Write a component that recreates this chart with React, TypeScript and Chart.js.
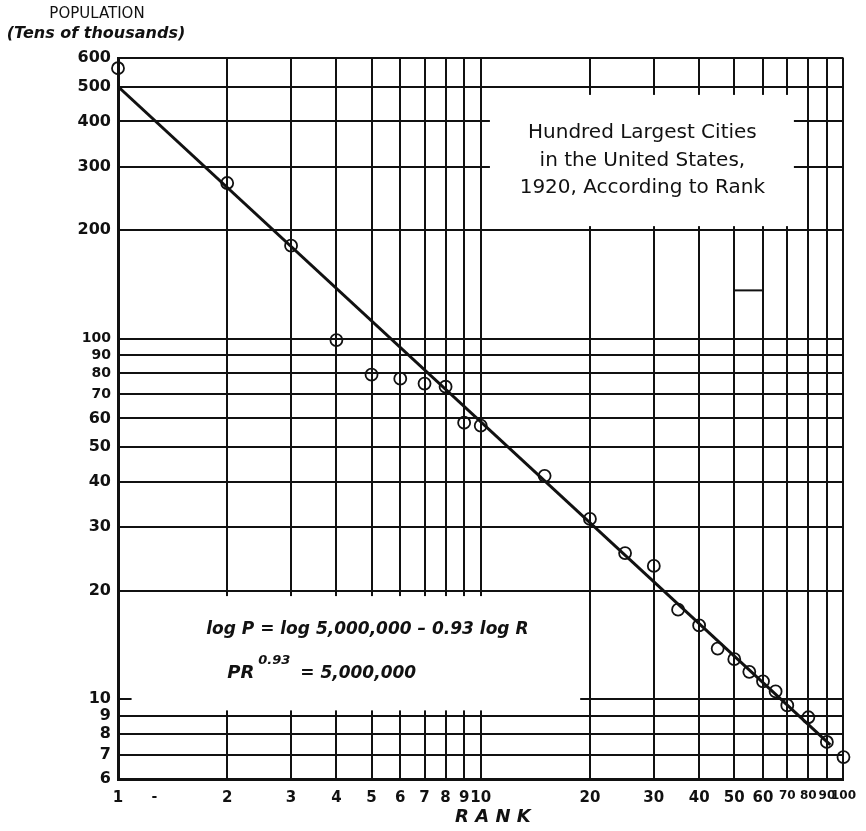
import React, { useEffect, useRef } from "react";
import { Chart, registerables } from "chart.js";

Chart.register(...registerables);

// ---- data ----
const ranks = [1, 2, 3, 4, 5, 6, 7, 8, 9, 10, 15, 20, 25, 30, 35, 40, 45, 50, 55, 60, 65, 70, 80, 90, 100];
const populations = [562, 270, 181, 99, 79.4, 77.4, 75, 73.5, 58.4, 57.3, 41.6, 31.6, 25.4, 23.4, 17.7, 16.0, 13.8, 12.9, 11.9, 11.2, 10.5, 9.6, 8.9, 7.6, 6.9];
const fitRanks = [1, 92];
const fitPopulations = [500, 7.46];
const xTickValues = [1, 2, 3, 4, 5, 6, 7, 8, 9, 10, 20, 30, 40, 50, 60, 70, 80, 90, 100];
const yTickValues = [6, 7, 8, 9, 10, 20, 30, 40, 50, 60, 70, 80, 90, 100, 200, 300, 400, 500, 600];
const yAxisTitle = "POPULATION";
const yAxisSubtitle = "(Tens of thousands)";
const xAxisTitle = "R A N K";
const noteLines = ["Hundred Largest Cities", "in the United States,", "1920, According to Rank"];
const equationLine1 = "log P = log 5,000,000 \u2013 0.93 log R";
const equationLine2a = "PR";
const equationLine2sup = "0.93";
const equationLine2b = " = 5,000,000";

const FONT = '"DejaVu Sans", "Liberation Sans", sans-serif';
const INK = "#111";

const overlayPlugin = {
  id: "overlay",
  beforeDatasetsDraw(chart: any) {
    const { ctx, scales } = chart;
    const x = scales.x;
    const y = scales.y;
    const rect = (r0: number, r1: number, p0: number, p1: number) => {
      const x0 = x.getPixelForValue(r0);
      const x1 = x.getPixelForValue(r1);
      const y0 = y.getPixelForValue(p0);
      const y1 = y.getPixelForValue(p1);
      ctx.fillRect(x0, y0, x1 - x0, y1 - y0);
    };
    ctx.save();
    ctx.fillStyle = "#fff";
    // blank panel for the note (upper right)
    rect(10.6, 73, 474, 205);
    // blank panel for the equations (lower left)
    rect(1.09, 18.8, 19.3, 9.3);
    // small stray mark in the grid
    ctx.strokeStyle = INK;
    ctx.lineWidth = 2;
    ctx.beginPath();
    ctx.moveTo(x.getPixelForValue(50), y.getPixelForValue(136));
    ctx.lineTo(x.getPixelForValue(60), y.getPixelForValue(136));
    ctx.stroke();
    ctx.restore();
  },
  afterDraw(chart: any) {
    const { ctx, chartArea, scales } = chart;
    const x = scales.x;
    const y = scales.y;
    ctx.save();
    ctx.fillStyle = INK;
    ctx.textAlign = "center";
    ctx.textBaseline = "middle";

    // y axis title
    ctx.font = `15px ${FONT}`;
    ctx.fillText(yAxisTitle, 97, 14);
    ctx.font = `italic bold 16px ${FONT}`;
    ctx.fillText(yAxisSubtitle, 96, 34);

    // x axis title
    ctx.font = `italic bold 18px ${FONT}`;
    ctx.fillText(xAxisTitle, x.getPixelForValue(10.8), chartArea.bottom + 38);

    // stray dash among x tick labels
    ctx.font = `bold 14px ${FONT}`;
    ctx.fillText("-", x.getPixelForValue(1.26), chartArea.bottom + 18);

    // note text
    ctx.font = `20px ${FONT}`;
    const noteX = x.getPixelForValue(27.9);
    const noteY0 = y.getPixelForValue(372);
    noteLines.forEach((line, i) => {
      ctx.fillText(line, noteX, noteY0 + i * 27.5);
    });

    // equations
    ctx.textAlign = "left";
    ctx.font = `italic bold 17px ${FONT}`;
    const eqY = y.getPixelForValue(15.6);
    ctx.fillText(equationLine1, x.getPixelForValue(1.75), eqY);
    const y2 = y.getPixelForValue(11.8);
    let cx = x.getPixelForValue(2.0);
    ctx.font = `italic bold 18px ${FONT}`;
    ctx.fillText(equationLine2a, cx, y2);
    cx += ctx.measureText(equationLine2a).width + 4;
    ctx.font = `italic bold 13px ${FONT}`;
    ctx.fillText(equationLine2sup, cx, y2 - 12);
    cx += ctx.measureText(equationLine2sup).width + 4;
    ctx.font = `italic bold 17px ${FONT}`;
    ctx.fillText(equationLine2b, cx, y2);
    ctx.restore();
  },
};

export default function App() {
  const canvasRef = useRef<HTMLCanvasElement | null>(null);

  useEffect(() => {
    const canvas = canvasRef.current;
    if (!canvas) return;
    const chart = new Chart(canvas, {
      type: "scatter",
      data: {
        datasets: [
          {
            type: "line",
            label: "fit",
            data: fitRanks.map((r, i) => ({ x: r, y: fitPopulations[i] })),
            borderColor: INK,
            borderWidth: 3,
            pointRadius: 0,
            fill: false,
            tension: 0,
          } as any,
          {
            label: "cities",
            data: ranks.map((r, i) => ({ x: r, y: populations[i] })),
            pointStyle: "circle",
            pointRadius: 6,
            pointBorderWidth: 1.8,
            pointBorderColor: INK,
            pointBackgroundColor: "rgba(255,255,255,0)",
            showLine: false,
            clip: false,
          },
        ],
      },
      options: {
        animation: false,
        responsive: false,
        maintainAspectRatio: false,
        devicePixelRatio: 1,
        layout: { padding: { top: 58, right: 21, left: 0, bottom: 0 } },
        plugins: {
          legend: { display: false },
          tooltip: { enabled: false },
          title: { display: false },
        },
        scales: {
          x: {
            type: "logarithmic",
            min: 1,
            max: 100,
            afterBuildTicks: (scale: any) => {
              scale.ticks = xTickValues.map((v) => ({ value: v }));
            },
            afterFit: (scale: any) => {
              scale.height = 52;
            },
            border: { display: true, color: INK, width: 3 },
            grid: { color: INK, lineWidth: 2, drawTicks: false },
            ticks: {
              autoSkip: false,
              maxRotation: 0,
              minRotation: 0,
              padding: 10,
              color: INK,
              font: (c: any) => ({
                family: FONT,
                weight: "bold",
                size: c.tick && c.tick.value >= 70 ? 12 : 15,
              }),
              callback: (v: any) => String(v),
            },
          },
          y: {
            type: "logarithmic",
            min: 6,
            max: 600,
            afterBuildTicks: (scale: any) => {
              scale.ticks = yTickValues.map((v) => ({ value: v }));
            },
            afterFit: (scale: any) => {
              scale.width = 118;
            },
            border: { display: true, color: INK, width: 3 },
            grid: { color: INK, lineWidth: 2, drawTicks: false },
            ticks: {
              autoSkip: false,
              padding: 7,
              color: INK,
              font: (c: any) => ({
                family: FONT,
                weight: "bold",
                size: c.tick && c.tick.value >= 70 && c.tick.value <= 100 ? 14 : 16,
              }),
              callback: (v: any) => String(v),
            },
          },
        },
      },
      plugins: [overlayPlugin],
    } as any);
    return () => chart.destroy();
  }, []);

  return (
    <div style={{ position: "absolute", left: 0, top: 0, width: 866, height: 831, background: "#fff" }}>
      <canvas ref={canvasRef} width={866} height={831} style={{ display: "block" }} />
    </div>
  );
}
